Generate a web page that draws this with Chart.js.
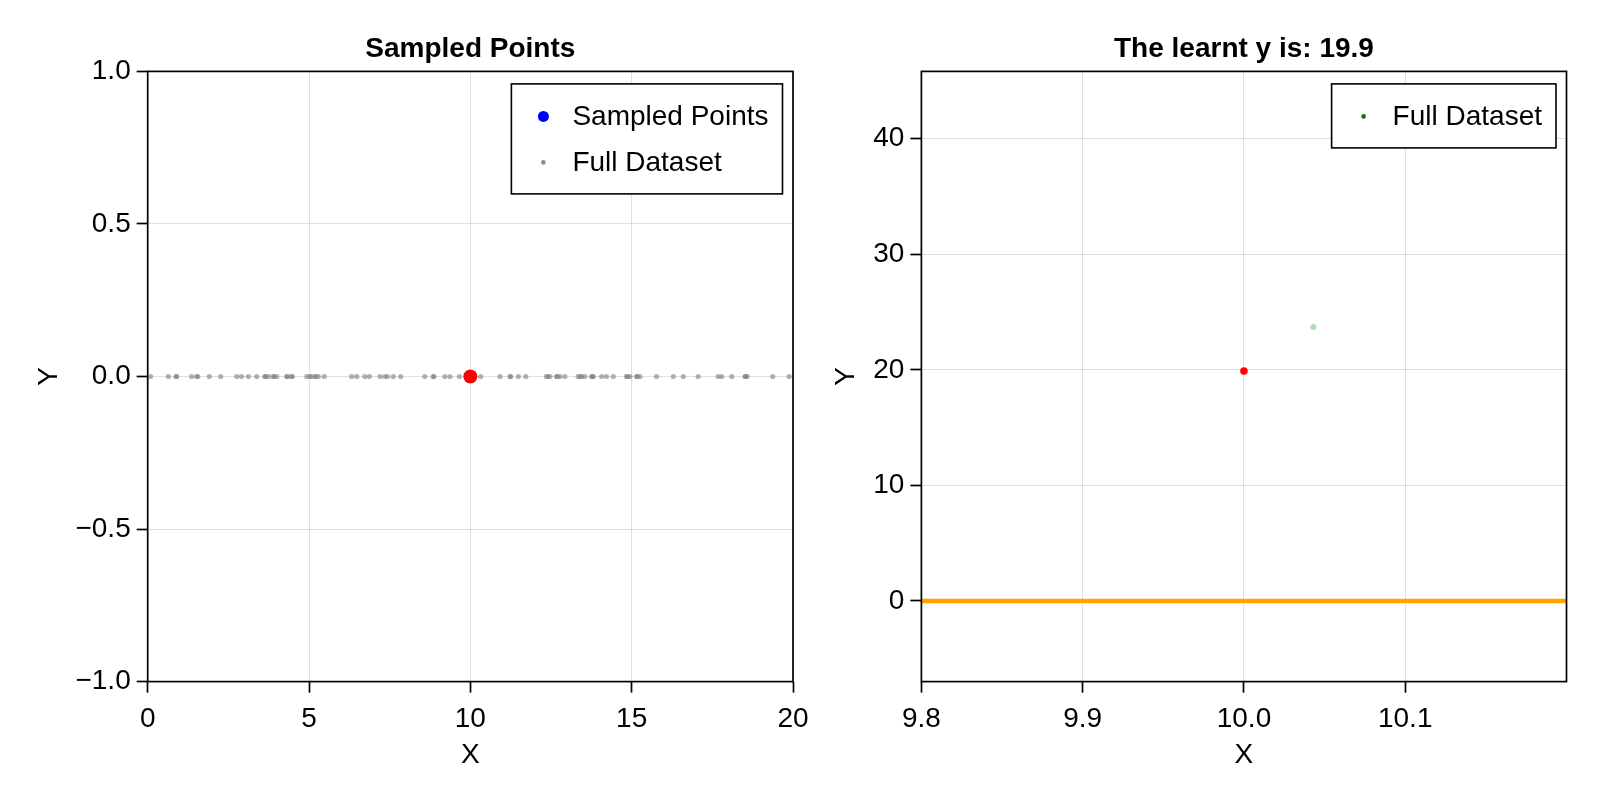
<!DOCTYPE html>
<html><head><meta charset="utf-8">
<script src="https://cdn.jsdelivr.net/npm/chart.js@4.4.1/dist/chart.umd.min.js"></script>
<style>
html,body{margin:0;padding:0;background:#fff;}
#wrap{position:relative;width:1600px;height:800px;overflow:hidden;}
.c{position:absolute;top:0;height:800px;}
</style></head><body>
<div id="wrap">
<div class="c" style="left:0;width:830px;z-index:2"><canvas id="left"></canvas></div>
<div class="c" style="left:800px;width:800px;z-index:1"><canvas id="right"></canvas></div>
</div>
<script>
// ---------- data ----------
const fullX = [0.09, 0.64, 0.88, 0.90, 1.36, 1.52, 1.55, 1.91, 2.26, 2.76, 2.91, 3.12, 3.38, 3.63, 3.65, 3.74, 3.89, 3.92, 4.00,
  4.31, 4.33, 4.46, 4.48, 4.93, 5.03, 5.06, 5.18, 5.21, 5.29, 5.47, 6.32, 6.48, 6.73, 6.87, 7.20, 7.35, 7.43, 7.61, 7.84,
  8.59, 8.85, 8.87, 9.21, 9.37, 9.66, 10.32, 10.92, 11.23, 11.25, 11.49, 11.72, 12.36, 12.40, 12.47, 12.67, 12.70, 12.78,
  12.93, 13.34, 13.40, 13.45, 13.55, 13.76, 13.78, 13.81, 14.07, 14.22, 14.43, 14.84, 14.87, 14.95, 15.15, 15.18, 15.26,
  15.77, 16.29, 16.60, 17.06, 17.68, 17.79, 18.10, 18.51, 18.53, 18.58, 19.37, 19.88];
const fullY = [0,0,0,0,0,0,0,0,0,0,0,0,0,0,0,0,0,0,0,
  0,0,0,0,0,0,0,0,0,0,0,0,0,0,0,0,0,0,0,0,
  0,0,0,0,0,0,0,0,0,0,0,0,0,0,0,0,0,0,
  0,0,0,0,0,0,0,0,0,0,0,0,0,0,0,0,0,0,0,
  0,0,0,0,0,0,0,0,0,0,0];
const sampledX = [10];
const sampledY = [0];

const rightFullX = [10.043];
const rightFullY = [23.7];
const learntX = [10.0];
const learntY = [19.9];
const refLineY = [0];

const leftXTicks = [0, 5, 10, 15, 20];
const leftYTicks = [-1.0, -0.5, 0.0, 0.5, 1.0];
const rightXTicks = [9.8, 9.9, 10.0, 10.1];
const rightYTicks = [0, 10, 20, 30, 40];
const leftLimits = {xmin: 0, xmax: 20, ymin: -1, ymax: 1};
const rightLimits = {xmin: 9.8, xmax: 10.2, ymin: -6.98, ymax: 45.83};

const leftTitle = 'Sampled Points';
const rightTitle = 'The learnt y is: ' + learntY[0].toFixed(1);

// ---------- styling helpers ----------
const FONT = '"Liberation Sans", Arial, Helvetica, sans-serif';
const GRID = 'rgba(0,0,0,0.12)';
const fmt = v => {
  const s = (Math.abs(v) < 1e-9 ? 0 : v).toFixed(1);
  return s.replace('-', '\u2212');
};
const fmtInt = v => String(Math.round(v)).replace('-', '\u2212');

const framePlugin = {
  id: 'frame',
  afterDatasetsDraw(chart) {
    const {ctx, chartArea: ca} = chart;
    ctx.save();
    ctx.strokeStyle = '#000';
    ctx.lineWidth = 1.7;
    ctx.strokeRect(ca.left, ca.top, ca.right - ca.left, ca.bottom - ca.top);
    ctx.restore();
  }
};

const boxLegend = {
  id: 'boxLegend',
  afterDraw(chart) {
    const {ctx, chartArea: ca} = chart;
    const items = chart.data.datasets.filter(d => d.inLegend);
    if (!items.length) return;
    ctx.save();
    ctx.font = '28px ' + FONT;
    const tw = Math.max(...items.map(d => ctx.measureText(d.label).width));
    const w = 61 + tw + 14;
    const h = 64 + (items.length - 1) * 46;
    const x0 = ca.right - 10.5 - w, y0 = ca.top + 12.5;
    ctx.fillStyle = '#fff';
    ctx.fillRect(x0, y0, w, h);
    ctx.lineWidth = 1.6;
    ctx.strokeStyle = '#000';
    ctx.strokeRect(x0, y0, w, h);
    items.forEach((d, i) => {
      const cy = y0 + 33.5 + i * 46;
      ctx.beginPath();
      ctx.arc(x0 + 32, cy - 1, d.legendRadius, 0, Math.PI * 2);
      ctx.fillStyle = d.legendColor;
      ctx.fill();
      ctx.fillStyle = '#000';
      ctx.textAlign = 'left';
      ctx.textBaseline = 'middle';
      ctx.fillText(d.label, x0 + 61, cy);
    });
    ctx.restore();
  }
};

function axisX(lim, ticks, formatter, height) {
  return {
    type: 'linear', position: 'bottom', min: lim.xmin, max: lim.xmax,
    afterBuildTicks: s => { s.ticks = ticks.map(v => ({value: v})); },
    afterFit: s => { s.height = height; s.paddingLeft = 0; s.paddingRight = 0; },
    grid: {color: GRID, lineWidth: 1, drawTicks: true, tickLength: 11, tickColor: '#000', tickWidth: 1.7},
    border: {display: false},
    ticks: {color: '#000', font: {family: FONT, size: 28}, padding: 10, maxRotation: 0, autoSkip: false,
      callback: v => formatter(v)},
    title: {display: true, text: 'X', color: '#000', font: {family: FONT, size: 28}, padding: {top: 0, bottom: 28}}
  };
}
function axisY(lim, ticks, formatter, width, titlePad) {
  return {
    type: 'linear', position: 'left', min: lim.ymin, max: lim.ymax,
    afterBuildTicks: s => { s.ticks = ticks.map(v => ({value: v})); },
    afterFit: s => { s.width = width; s.paddingTop = 0; s.paddingBottom = 0; },
    grid: {color: GRID, lineWidth: 1, drawTicks: true, tickLength: 11, tickColor: '#000', tickWidth: 1.7},
    border: {display: false},
    ticks: {color: '#000', font: {family: FONT, size: 28}, padding: 6, autoSkip: false,
      callback: v => formatter(v)},
    title: {display: true, text: 'Y', color: '#000', font: {family: FONT, size: 28}, padding: {top: titlePad, bottom: 0}}
  };
}

function titleOpts(text) {
  return {display: true, text: text, color: '#000', fullSize: false,
    font: {family: FONT, size: 28, weight: 'bold'}, padding: {top: 32, bottom: 5.8}};
}

const toPts = (xs, ys) => xs.map((x, i) => ({x: x, y: ys[i]}));

// ---------- left chart ----------
new Chart(document.getElementById('left'), {
  type: 'scatter',
  data: {
    datasets: [
      {label: 'Full Dataset', data: toPts(fullX, fullY), backgroundColor: 'rgba(128,128,128,0.6)', borderWidth: 0,
        pointRadius: 2.6, inLegend: false, order: 3},
      {label: 'Sampled Points', data: toPts(sampledX, sampledY), backgroundColor: 'rgb(0,0,255)', borderWidth: 0,
        pointRadius: 5, inLegend: true, legendColor: 'rgb(0,0,255)', legendRadius: 5.5, order: 2},
      {label: 'Full Dataset', data: [], inLegend: true, legendColor: 'rgba(128,128,128,0.9)', legendRadius: 2.3, order: 4},
      {label: 'Sampled (highlight)', data: toPts(sampledX, sampledY), backgroundColor: 'rgb(255,0,0)', borderWidth: 0,
        pointRadius: 7, inLegend: false, order: 1}
    ]
  },
  options: {
    responsive: true, maintainAspectRatio: false, animation: false, devicePixelRatio: 1,
    layout: {padding: {left: 0, right: 37, top: 0, bottom: 0}},
    plugins: {legend: {display: false}, tooltip: {enabled: false}, title: titleOpts(leftTitle)},
    scales: {
      x: axisX(leftLimits, leftXTicks, fmtInt, 118.4),
      y: axisY(leftLimits, leftYTicks, fmt, 147.7, 32)
    }
  },
  plugins: [framePlugin, boxLegend]
});

// ---------- right chart ----------
new Chart(document.getElementById('right'), {
  type: 'scatter',
  data: {
    datasets: [
      {label: 'Full Dataset', data: toPts(rightFullX, rightFullY), backgroundColor: 'rgba(0,128,0,0.3)', borderWidth: 0,
        pointRadius: 3, inLegend: true, legendColor: 'rgb(0,128,0)', legendRadius: 2.3, order: 3},
      {label: 'Learnt', data: toPts(learntX, learntY), backgroundColor: 'rgb(255,0,0)', borderWidth: 0,
        pointRadius: 3.8, inLegend: false, order: 1},
      {label: 'Reference', type: 'line',
        data: [{x: rightLimits.xmin, y: refLineY[0]}, {x: rightLimits.xmax, y: refLineY[0]}],
        borderColor: 'rgb(255,165,0)', borderWidth: 4.5, pointRadius: 0, showLine: true, fill: false,
        inLegend: false, order: 2}
    ]
  },
  options: {
    responsive: true, maintainAspectRatio: false, animation: false, devicePixelRatio: 1,
    layout: {padding: {left: 0, right: 33.5, top: 0, bottom: 0}},
    plugins: {legend: {display: false}, tooltip: {enabled: false}, title: titleOpts(rightTitle)},
    scales: {
      x: axisX(rightLimits, rightXTicks, fmt, 118.4),
      y: axisY(rightLimits, rightYTicks, fmtInt, 121.4, 29)
    }
  },
  plugins: [framePlugin, boxLegend]
});
</script>
</body></html>
